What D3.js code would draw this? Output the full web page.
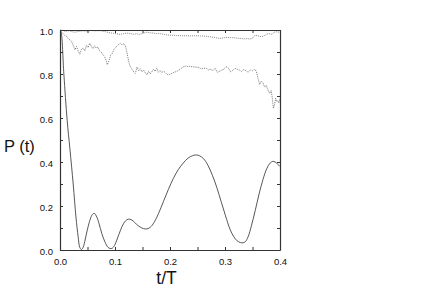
<!DOCTYPE html>
<html><head><meta charset="utf-8">
<script src="https://cdn.jsdelivr.net/npm/d3@7"></script>
<style>body{margin:0;background:#fff}svg{display:block}text{font-family:"Liberation Sans",Arial,sans-serif;fill:#111}</style>
</head><body>
<script>
const xTicks = [0.0, 0.1, 0.2, 0.3, 0.4];
const yTicks = [0.0, 0.2, 0.4, 0.6, 0.8, 1.0];
const xLabel = "t/T";
const yLabel = "P (t)";

// solid curve
const solidT = [0.000,0.002,0.007,0.013,0.018,0.024,0.029,0.033,0.036,0.039,0.042,0.046,0.050,0.055,0.059,0.062,0.066,0.071,0.076,0.082,0.087,0.091,0.095,0.099,0.104,0.110,0.116,0.122,0.127,0.133,0.139,0.146,0.152,0.158,0.164,0.171,0.179,0.188,0.197,0.206,0.215,0.224,0.233,0.241,0.248,0.254,0.261,0.269,0.277,0.285,0.293,0.301,0.309,0.316,0.322,0.328,0.333,0.337,0.342,0.348,0.355,0.362,0.369,0.376,0.382,0.387,0.391,0.395,0.400];
const solidP = [1.000,0.990,0.800,0.590,0.460,0.300,0.150,0.060,0.012,0.002,0.012,0.050,0.095,0.140,0.162,0.167,0.155,0.120,0.075,0.035,0.013,0.007,0.008,0.020,0.050,0.090,0.122,0.138,0.140,0.132,0.117,0.104,0.097,0.096,0.103,0.125,0.165,0.220,0.275,0.325,0.365,0.395,0.418,0.429,0.432,0.428,0.415,0.385,0.340,0.285,0.220,0.155,0.095,0.060,0.042,0.034,0.033,0.038,0.060,0.110,0.180,0.255,0.320,0.370,0.395,0.403,0.400,0.392,0.380];

// upper dotted curve
const upperT = [0.000,0.005,0.010,0.016,0.022,0.027,0.033,0.040,0.049,0.056,0.064,0.073,0.080,0.086,0.091,0.097,0.103,0.109,0.115,0.121,0.127,0.133,0.139,0.145,0.151,0.158,0.164,0.170,0.176,0.183,0.190,0.196,0.204,0.212,0.220,0.228,0.236,0.245,0.255,0.263,0.270,0.276,0.282,0.288,0.294,0.300,0.307,0.315,0.322,0.329,0.335,0.340,0.345,0.350,0.355,0.359,0.364,0.370,0.375,0.379,0.383,0.386,0.390,0.394,0.397,0.400];
const upperP = [1.000,0.998,0.994,0.997,0.992,0.990,0.993,0.996,0.995,0.998,0.996,0.997,0.994,0.990,0.987,0.985,0.983,0.980,0.983,0.986,0.984,0.981,0.983,0.980,0.985,0.990,0.987,0.986,0.984,0.983,0.980,0.977,0.976,0.975,0.974,0.974,0.973,0.974,0.973,0.972,0.970,0.968,0.966,0.962,0.963,0.965,0.966,0.965,0.963,0.961,0.960,0.961,0.959,0.963,0.977,0.974,0.970,0.972,0.980,0.985,0.980,0.983,0.990,0.992,0.990,0.993];

// middle dotted curve
const midT = [0.000,0.003,0.006,0.009,0.012,0.015,0.018,0.021,0.024,0.027,0.030,0.033,0.036,0.039,0.042,0.045,0.048,0.051,0.054,0.057,0.060,0.063,0.066,0.069,0.072,0.075,0.078,0.081,0.084,0.086,0.089,0.092,0.095,0.098,0.101,0.104,0.107,0.110,0.113,0.116,0.119,0.122,0.125,0.128,0.131,0.134,0.137,0.140,0.143,0.146,0.149,0.152,0.155,0.158,0.161,0.164,0.167,0.170,0.173,0.176,0.179,0.182,0.185,0.188,0.191,0.194,0.197,0.200,0.204,0.208,0.212,0.216,0.220,0.224,0.228,0.232,0.236,0.240,0.245,0.250,0.255,0.260,0.265,0.270,0.274,0.278,0.282,0.286,0.290,0.294,0.298,0.302,0.306,0.310,0.314,0.318,0.322,0.326,0.330,0.334,0.338,0.342,0.346,0.350,0.354,0.357,0.360,0.363,0.366,0.369,0.372,0.375,0.378,0.381,0.384,0.386,0.388,0.390,0.392,0.394,0.396,0.398,0.400];
const midP = [1.000,0.990,0.982,0.975,0.972,0.960,0.955,0.948,0.930,0.910,0.925,0.905,0.890,0.912,0.918,0.905,0.930,0.920,0.940,0.925,0.915,0.928,0.918,0.922,0.905,0.900,0.888,0.880,0.860,0.842,0.860,0.885,0.893,0.912,0.920,0.928,0.935,0.940,0.932,0.938,0.928,0.895,0.855,0.832,0.822,0.810,0.803,0.832,0.815,0.824,0.810,0.818,0.806,0.796,0.812,0.800,0.810,0.822,0.812,0.826,0.808,0.816,0.806,0.813,0.808,0.800,0.796,0.798,0.804,0.808,0.812,0.817,0.825,0.832,0.836,0.834,0.835,0.833,0.832,0.831,0.826,0.824,0.828,0.818,0.822,0.815,0.826,0.808,0.812,0.818,0.822,0.833,0.828,0.810,0.816,0.826,0.822,0.818,0.812,0.820,0.815,0.808,0.818,0.815,0.822,0.812,0.780,0.752,0.768,0.760,0.740,0.748,0.728,0.712,0.725,0.690,0.644,0.660,0.690,0.675,0.680,0.668,0.690];

const W = 436, H = 304;
const m = {l: 60, r: 156, t: 30, b: 54};
const svg = d3.select("body").append("svg").attr("width", W).attr("height", H);
const x = d3.scaleLinear().domain([0, 0.4]).range([m.l, W - m.r]);
const y = d3.scaleLinear().domain([0, 1]).range([H - m.b, m.t]);

const clipId = "plotclip";
svg.append("clipPath").attr("id", clipId).append("rect")
  .attr("x", m.l).attr("y", m.t - 1).attr("width", x(0.4) - m.l).attr("height", y(0) - y(1) + 1);

const line = d3.line().x(d => x(d[0])).y(d => y(d[1]));
const g = svg.append("g").attr("clip-path", `url(#${clipId})`);
g.append("path").datum(d3.zip(solidT, solidP))
  .attr("d", line.curve(d3.curveCatmullRom.alpha(0.5))).attr("fill", "none")
  .attr("stroke", "#444").attr("stroke-width", 0.9);
g.append("path").datum(d3.zip(upperT, upperP))
  .attr("d", d3.line().x(d => x(d[0])).y(d => y(d[1]))).attr("fill", "none")
  .attr("stroke", "#666").attr("stroke-width", 0.8).attr("stroke-dasharray", "1,1");
g.append("path").datum(d3.zip(midT, midP))
  .attr("d", d3.line().x(d => x(d[0])).y(d => y(d[1]))).attr("fill", "none")
  .attr("stroke", "#666").attr("stroke-width", 0.8).attr("stroke-dasharray", "1.2,1");

// axes with inward ticks
const fmt = d3.format(".1f");
const minorX = d3.range(0, 0.4001, 0.05);
const minorY = d3.range(0, 1.0001, 0.1);
const axB = d3.axisBottom(x).tickValues(minorX).tickSizeInner(-3).tickSizeOuter(0).tickFormat(d => xTicks.some(v => Math.abs(v - d) < 1e-9) ? fmt(d) : "");
const axT = d3.axisTop(x).tickValues(minorX).tickSizeInner(-3).tickSizeOuter(0).tickFormat("");
const axL = d3.axisLeft(y).tickValues(minorY).tickSizeInner(-3).tickSizeOuter(0).tickFormat(d => yTicks.some(v => Math.abs(v - d) < 1e-9) ? fmt(d) : "");
const axR = d3.axisRight(y).tickValues(minorY).tickSizeInner(-3).tickSizeOuter(0).tickFormat("");

function style(sel) {
  sel.select(".domain").attr("stroke", "#333").attr("stroke-width", 1.2);
  sel.selectAll(".tick line").attr("stroke", "#333");
  sel.selectAll("text").attr("font-size", 9.5).attr("fill", "#111").style("font-family", '"Liberation Sans", Arial, sans-serif');
}
svg.append("g").attr("transform", `translate(0,${y(0)})`).call(axB).call(style)
  .selectAll("text").attr("dy", "0.71em").attr("y", 8);
svg.append("g").attr("transform", `translate(0,${y(1)})`).call(axT).call(style);
svg.append("g").attr("transform", `translate(${x(0)},0)`).call(axL).call(style)
  .selectAll("text").attr("x", -7).attr("dy", "0.42em");
svg.append("g").attr("transform", `translate(${x(0.4)},0)`).call(axR).call(style);

svg.append("text").attr("x", 166.5).attr("y", 284).attr("text-anchor", "middle")
  .attr("font-size", 17.5).text(xLabel);
svg.append("text").attr("x", 4).attr("y", 152).attr("text-anchor", "start")
  .attr("font-size", 16.5).text(yLabel);
</script>
</body></html>
